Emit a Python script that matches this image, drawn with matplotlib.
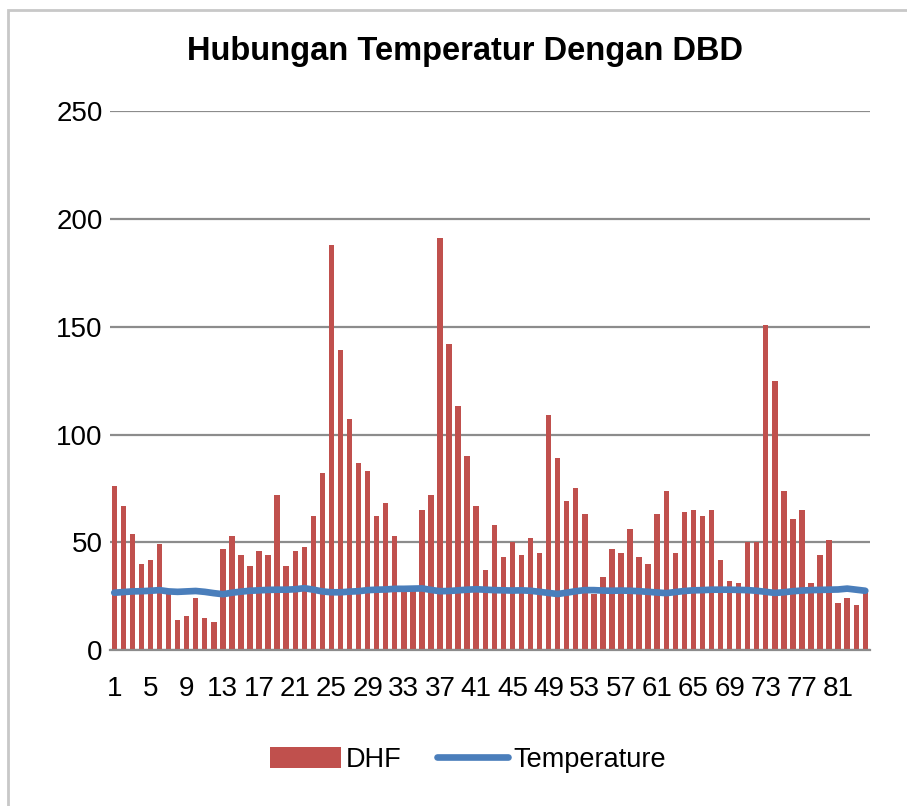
import matplotlib.pyplot as plt
import numpy as np
from matplotlib.patches import Rectangle

plt.rcParams["font.family"] = ["Liberation Sans", "DejaVu Sans"]

# DHF cases per period (1..84)
dhf = [
    76, 67, 54, 40, 42, 49, 26, 14, 16, 24, 15, 13,
    47, 53, 44, 39, 46, 44, 72, 39, 46, 48, 62, 82,
    188, 139, 107, 87, 83, 62, 68, 53, 28, 28, 65, 72,
    191, 142, 113, 90, 67, 37, 58, 43, 50, 44, 52, 45,
    109, 89, 69, 75, 63, 26, 34, 47, 45, 56, 43, 40,
    63, 74, 45, 64, 65, 62, 65, 42, 32, 31, 50, 50,
    151, 125, 74, 61, 65, 31, 44, 51, 22, 24, 21, 28,
]

temperature = [
    26.6, 26.9, 27.2, 27.3, 27.5, 27.8, 27.2, 27.0, 27.2, 27.4, 27.0, 26.4,
    25.9, 26.6, 27.1, 27.5, 27.7, 27.9, 28.0, 28.0, 28.2, 28.7, 28.0, 27.2,
    26.8, 26.8, 27.1, 27.3, 27.8, 28.0, 28.1, 28.4, 28.4, 28.5, 28.6, 27.9,
    27.3, 27.4, 27.7, 28.0, 28.2, 28.0, 27.8, 27.7, 27.6, 27.7, 27.5, 27.0,
    26.5, 26.0, 26.6, 27.3, 27.8, 27.8, 27.6, 27.5, 27.6, 27.5, 27.3, 27.0,
    26.7, 26.4, 26.9, 27.4, 27.7, 27.8, 28.0, 28.0, 28.0, 27.9, 27.8, 27.5,
    27.0, 26.5, 26.8, 27.3, 27.6, 27.8, 27.9, 28.0, 28.1, 28.5, 28.0, 27.5,
]

x = np.arange(1, len(dhf) + 1)
tick_pos = x[::4]

fig = plt.figure(figsize=(9.07, 8.06), dpi=100)
ax = fig.add_axes([0.121, 0.1935, 0.838, 0.6685])

bars = ax.bar(x, dhf, width=0.6, color="#C0504D", label="DHF", zorder=2)
line, = ax.plot(x, temperature, color="#4A7EBB", lw=4.8, label="Temperature",
                solid_capstyle="round", zorder=3)

ax.set_xlim(0.5, len(dhf) + 0.5)
ax.set_ylim(0, 250)
ax.set_yticks(range(0, 251, 50))
ax.set_xticks(tick_pos)
ax.set_xticklabels([str(v) for v in tick_pos])
ax.tick_params(axis="both", length=0, labelsize=20, colors="black")
ax.tick_params(axis="x", pad=19)
ax.tick_params(axis="y", pad=5)
ax.grid(axis="y", color="#8c8c8c", lw=1.6, zorder=0)
for side in ("top", "right", "left"):
    ax.spines[side].set_visible(False)
ax.spines["bottom"].set_color("#8c8c8c")
ax.spines["bottom"].set_linewidth(1.6)

fig.text(0.513, 0.936, "Hubungan Temperatur Dengan DBD", ha="center",
         va="center", fontsize=23.5, fontweight="bold")

fig.legend([bars, line], ["DHF", "Temperature"], loc="center",
           bbox_to_anchor=(0.516, 0.057), ncol=2, frameon=False,
           fontsize=19.5, handlelength=2.6, handleheight=0.8, columnspacing=1.3,
           handletextpad=0.2)

# chart frame (only top and left edge visible in the crop)
fig.patches.append(Rectangle((8 / 907, -0.1), 1.2, (806 - 10) / 806 + 0.1,
                             transform=fig.transFigure, fill=False,
                             edgecolor="#c8c8c8", lw=2))

fig.savefig("out.png", dpi=100)
